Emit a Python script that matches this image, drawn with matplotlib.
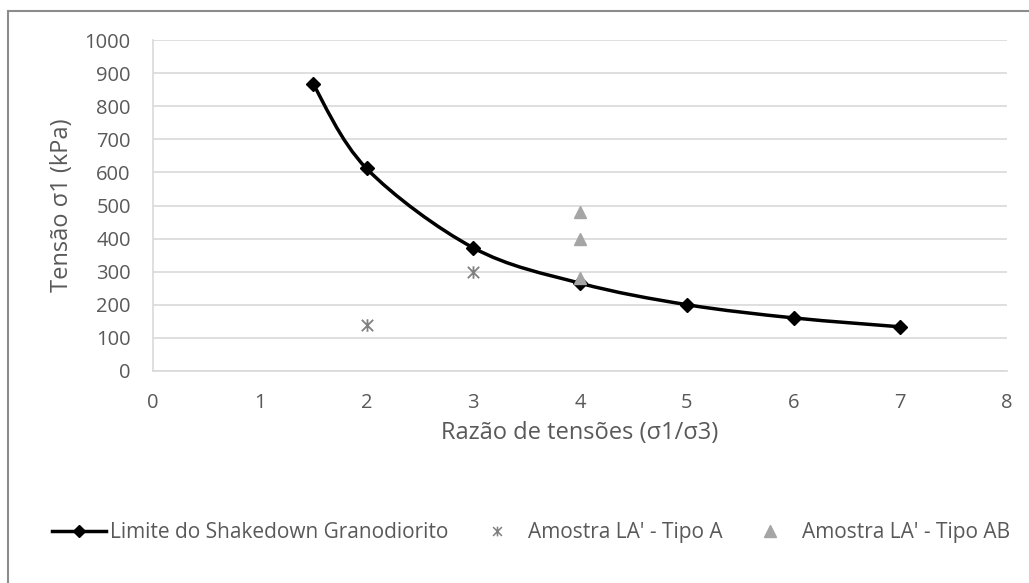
import numpy as np
import matplotlib.pyplot as plt
from matplotlib.path import Path
from matplotlib.patches import PathPatch, Rectangle
from matplotlib.lines import Line2D

plt.rcParams['font.family'] = ['Open Sans', 'DejaVu Sans']

# data
limit_x = [1.5, 2, 3, 4, 5, 6, 7]
limit_y = [867, 612, 372, 265, 200, 160, 133]
tipo_a_x = [2, 3]
tipo_a_y = [140, 300]
tipo_ab_x = [4, 4, 4]
tipo_ab_y = [480, 400, 280]

# Excel-style star marker: an X with a vertical stroke
star = Path([(-1, -1), (1, 1), (-1, 1), (1, -1), (0, -1.1), (0, 1.1)],
            [Path.MOVETO, Path.LINETO] * 3)

fig = plt.figure(figsize=(10.29, 5.83), dpi=100)
ax = fig.add_axes([0.1487, 0.364, 0.830, 0.567])

# smooth curve like Excel (Catmull-Rom as cubic bezier segments)
pts = np.column_stack([limit_x, limit_y]).astype(float)
verts = [tuple(pts[0])]
codes = [Path.MOVETO]
n = len(pts)
for i in range(n - 1):
    p0 = pts[i - 1] if i > 0 else pts[i]
    p1, p2 = pts[i], pts[i + 1]
    p3 = pts[i + 2] if i + 2 < n else pts[i + 1]
    c1 = p1 + (p2 - p0) / 6
    c2 = p2 - (p3 - p1) / 6
    verts += [tuple(c1), tuple(c2), tuple(p2)]
    codes += [Path.CURVE4] * 3
ax.add_patch(PathPatch(Path(verts, codes), fill=False, lw=2.5, color='black', zorder=3))
ax.plot(limit_x, limit_y, linestyle='none', marker='D', ms=7, color='black', zorder=4)

ax.plot(tipo_a_x, tipo_a_y, linestyle='none', marker=star, ms=9, mew=1.3,
        color='#808080', zorder=5)
ax.plot(tipo_ab_x, tipo_ab_y, linestyle='none', marker='^', ms=9, color='#a5a5a5', zorder=5)

ax.set_xlim(0, 8)
ax.set_ylim(0, 1000)
ax.set_xticks(range(0, 9))
ax.set_yticks(range(0, 1001, 100))
ax.grid(axis='y', color='#d9d9d9', lw=1.2)
ax.set_axisbelow(True)
for s in ['top', 'right']:
    ax.spines[s].set_visible(False)
for s in ['left', 'bottom']:
    ax.spines[s].set_color('#d9d9d9')
    ax.spines[s].set_linewidth(1.2)
ax.tick_params(length=0, labelsize=14.5, colors='#595959')
ax.tick_params(axis='x', pad=16)
ax.tick_params(axis='y', pad=16)
ax.set_xlabel('Razão de tensões (σ1/σ3)', fontsize=17, color='#595959', labelpad=6)
ax.set_ylabel('Tensão σ1 (kPa)', fontsize=17, color='#595959', labelpad=8)

handles = [
    Line2D([], [], color='black', lw=2.5, marker='D', ms=6),
    Line2D([], [], linestyle='none', marker=star, ms=7, mew=1.1, color='#808080'),
    Line2D([], [], linestyle='none', marker='^', ms=8, color='#a5a5a5'),
]
labels = ['Limite do Shakedown Granodiorito', "Amostra LA' - Tipo A", "Amostra LA' - Tipo AB"]
fig.legend(handles, labels, loc='center', bbox_to_anchor=(0.516, 0.086), ncol=3,
           frameon=False, fontsize=15, labelcolor='#595959', columnspacing=1.0,
           handlelength=2.6, handletextpad=0.2, borderpad=0, borderaxespad=0)

fig.patches.append(Rectangle((8 / 1029, -0.1), 1.2, 1.1 - 11 / 583, transform=fig.transFigure,
                             fill=False, edgecolor='#8c8c8c', lw=1.5))

fig.savefig('out.png', dpi=100)
